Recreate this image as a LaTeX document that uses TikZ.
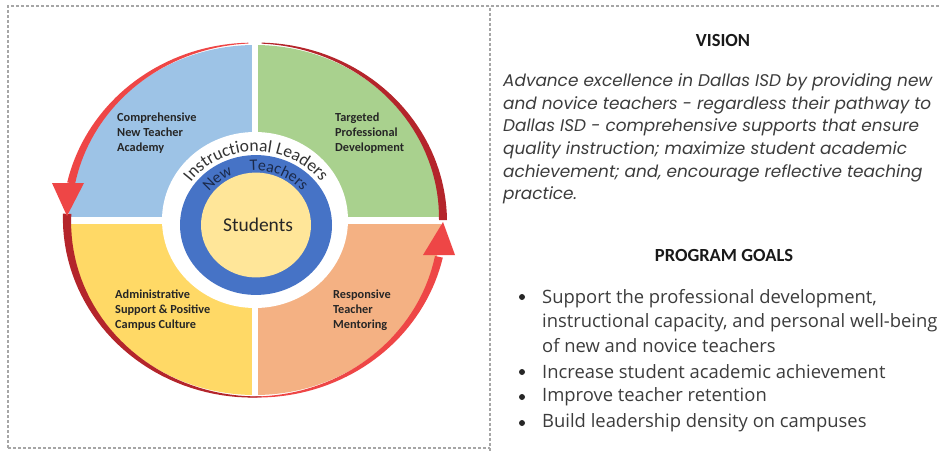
\documentclass[tikz,border=0pt]{standalone}
\usepackage{fontspec}
\setmainfont{Carlito}
\newfontfamily\goalfont{Open Sans}
\newfontfamily\visionfont{Poppins}
\usetikzlibrary{decorations.text, calc}
\definecolor{quadblue}{HTML}{9DC3E6}
\definecolor{quadgreen}{HTML}{A9D18E}
\definecolor{quadyellow}{HTML}{FFD966}
\definecolor{quadorange}{HTML}{F4B183}
\definecolor{ringblue}{HTML}{4673C6}
\definecolor{coreyellow}{HTML}{FFE699}
\definecolor{arrowred}{HTML}{EE4646}
\definecolor{ringred}{HTML}{B4252B}
\definecolor{arcnavy}{HTML}{1B2A4A}
\definecolor{bodygray}{HTML}{3C3C3C}

\begin{document}
\begin{tikzpicture}[x=1pt, y=1pt,
    frameline/.style={gray!70, dashed, dash pattern=on 3pt off 2pt, line width=1.2pt},
    quadtext/.style={anchor=west, align=left, inner sep=0pt, text=black!85,
      font=\bfseries\fontsize{12.3}{15}\selectfont},
    panelhead/.style={inner sep=0pt, font=\bfseries\fontsize{18.5}{20}\selectfont, text=black!90},
    goaltext/.style={anchor=west, align=left, inner sep=0pt, text=bodygray,
      font=\goalfont\fontsize{18.4}{24.5}\selectfont},
    goalbullet/.style={circle, fill=black!85, inner sep=0pt, minimum size=6pt}]
  \useasboundingbox (0,0) rectangle (941,451);

  \draw[frameline] (8,3) -- (8,445) -- (941,445);
  \draw[frameline] (8,3) -- (490,3);
  \draw[frameline] (490,0) -- (490,445);

  \begin{scope}[shift={(255,231)}]
    \fill[quadblue] (0,0) -- (180:186 and 175) arc[start angle=180, end angle=90, x radius=186, y radius=175] -- cycle;
    \fill[quadgreen] (0,0) -- (90:186 and 175) arc[start angle=90, end angle=0, x radius=186, y radius=175] -- cycle;
    \fill[quadorange] (0,0) -- (0:186 and 175) arc[start angle=0, end angle=-90, x radius=186, y radius=175] -- cycle;
    \fill[quadyellow] (0,0) -- (-90:186 and 175) arc[start angle=-90, end angle=-180, x radius=186, y radius=175] -- cycle;
    \draw[white, line width=6pt] (0,-180) -- (0,180);
    \draw[white, line width=7pt] (-190,0) -- (190,0);
    \fill[white] (0,0) ellipse[x radius=93, y radius=88];

    \fill[arrowred] plot[domain=92:168, samples=40] ({(188+0.4+3.6*(\x-92)/76)*cos(\x)}, {(177+0.4+3.6*(\x-92)/76)*sin(\x)})
      -- plot[domain=168:92, samples=40] ({(188-0.4-3.6*(\x-92)/76)*cos(\x)}, {(177-0.4-3.6*(\x-92)/76)*sin(\x)}) -- cycle;
    \fill[arrowred] plot[domain=268:348, samples=40] ({(188+0.4+3.6*(\x-268)/80)*cos(\x)}, {(177+0.4+3.6*(\x-268)/80)*sin(\x)})
      -- plot[domain=348:268, samples=40] ({(188-0.4-3.6*(\x-268)/80)*cos(\x)}, {(177-0.4-3.6*(\x-268)/80)*sin(\x)}) -- cycle;
    \fill[ringred] plot[domain=88:0, samples=40] ({(188+0.5+3.5*(88-\x)/88)*cos(\x)}, {(177+0.5+3.5*(88-\x)/88)*sin(\x)})
      -- plot[domain=0:88, samples=40] ({(188-0.5-3.5*(88-\x)/88)*cos(\x)}, {(177-0.5-3.5*(88-\x)/88)*sin(\x)}) -- cycle;
    \fill[ringred] plot[domain=272:178, samples=40] ({(188+0.5+3.7*(272-\x)/94)*cos(\x)}, {(177+0.5+3.7*(272-\x)/94)*sin(\x)})
      -- plot[domain=178:272, samples=40] ({(188-0.5-3.7*(272-\x)/94)*cos(\x)}, {(177-0.5-3.7*(272-\x)/94)*sin(\x)}) -- cycle;
    \fill[arrowred] (-203,37) -- (-171,37) -- (-188,4) -- cycle;
    \fill[arrowred] (168,-35) -- (200,-35) -- (188,-2) -- cycle;
  \end{scope}

  \begin{scope}[shift={(256,226)}, yscale=0.92]
    \fill[ringblue] (0,0) circle[radius=76];
    \fill[coreyellow] (0,0) ellipse[x radius=55, y radius=57];
    \path[decorate, decoration={text along path, text align=center,
        text={|\fontsize{17.5}{17.5}\selectfont\color{black!80}|Instructional Leaders}}]
      (158:80) arc[start angle=158, end angle=22, radius=80];
    \path[decorate, decoration={text along path, text align=center,
        text={|\fontsize{16}{16}\selectfont\color{arcnavy}|New}}]
      (148:59) arc[start angle=148, end angle=108, radius=59];
    \path[decorate, decoration={text along path, text align=center,
        text={|\fontsize{16}{16}\selectfont\color{arcnavy}|Teachers}}]
      (102:59) arc[start angle=102, end angle=32, radius=59];
  \end{scope}
  \node[font=\fontsize{19.5}{20}\selectfont, text=black!85] (core) at (258,226) {Students};

  \node[quadtext] (academy) at (117,318) {Comprehensive\\New Teacher\\Academy};
  \node[quadtext] (pd) at (335,318) {Targeted\\Professional\\Development};
  \node[quadtext] (culture) at (115,141) {Administrative\\Support \& Positive\\Campus Culture};
  \node[quadtext] (mentor) at (333,141) {Responsive\\Teacher\\Mentoring};

  \node[panelhead] (vision) at (723,411) {VISION};
  \node[anchor=west, align=left, inner sep=0pt, text=bodygray,
    font=\visionfont\itshape\fontsize{16.9}{22.7}\selectfont] (visiontext) at (503,312)
    {Advance excellence in Dallas ISD by providing new\\
     and novice teachers - regardless their pathway to\\
     Dallas ISD - comprehensive supports that ensure\\
     quality instruction; maximize student academic\\
     achievement; and, encourage reflective teaching\\
     practice.};

  \node[panelhead] (goals) at (724,196) {PROGRAM GOALS};
  \node[goalbullet] (b1) at (522,154) {};
  \node[goalbullet] (b2) at (522,79) {};
  \node[goalbullet] (b3) at (522,54) {};
  \node[goalbullet] (b4) at (522,28) {};
  \node[goaltext] (g1) at (542,130) {Support the professional development,\\instructional capacity, and personal well-being\\of new and novice teachers};
  \node[goaltext] (g2) at (542,79) {Increase student academic achievement};
  \node[goaltext] (g3) at (542,54) {Improve teacher retention};
  \node[goaltext] (g4) at (542,28) {Build leadership density on campuses};
\end{tikzpicture}
\end{document}
